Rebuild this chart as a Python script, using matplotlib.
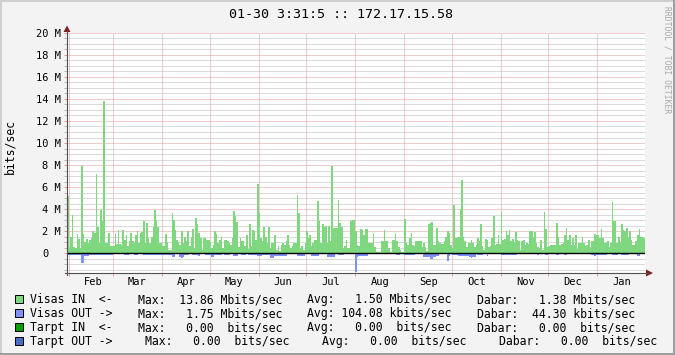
import numpy as np
import matplotlib
matplotlib.use("Agg")
import matplotlib.pyplot as plt
from matplotlib.patches import Rectangle, Polygon
from matplotlib.lines import Line2D
from matplotlib import transforms

W, H, DPI = 675, 355, 100

# ---------------- data ----------------
title = "01-30 3:31:5 :: 172.17.15.58"
ylabel = "bits/sec"
watermark = "RRDTOOL / TOBI OETIKER"

month_names = ["Feb", "Mar", "Apr", "May", "Jun", "Jul", "Aug", "Sep", "Oct", "Nov", "Dec", "Jan"]
month_lengths = [28, 31, 30, 31, 30, 31, 31, 30, 31, 30, 31, 30]
first_month_start = 1          # series begins one day (Jan 31) before Feb 1

y_major_step = 2e6
y_minor_step = 0.5e6
y_max = 20e6
y_min = -20e6 / 11

# Visas IN, daily, Mbit/s (first value = Jan 31)
in_feb = [5.15, 0.55, 1.5, 3.5, 0.55, 0.5, 1.75, 1.3, 0.5, 7.9, 1.75, 1.0, 1.3, 0.9, 1.15,
          1.35, 2.0, 1.8, 7.2, 2.4, 0.9, 3.9, 2.9, 13.86, 0.9, 0.9, 1.8, 0.6, 0.6]
in_mar = [0.6, 1.7, 0.85, 2.1, 0.85, 0.75, 2.1, 1.15, 1.6, 0.65, 1.05, 1.8, 1.05, 0.9, 1.65,
          2.0, 0.9, 1.8, 1.9, 2.95, 0.95, 2.7, 1.4, 0.9, 1.5, 2.4, 3.9, 3.0, 2.4, 0.9, 0.9]
in_apr = [0.6, 0.6, 1.75, 1.0, 0.25, 0.25, 3.6, 3.0, 2.1, 1.2, 1.0, 0.75, 2.0, 0.9, 1.45,
          1.05, 2.0, 0.65, 1.45, 2.2, 0.45, 3.2, 2.6, 1.8, 1.35, 0.3, 1.35, 1.35, 1.2, 1.2]
in_may = [1.0, 0.5, 0.7, 2.0, 1.75, 0.9, 1.2, 1.45, 0.45, 1.2, 1.2, 1.05, 0.9, 0.7, 1.35,
          3.85, 3.4, 2.85, 0.55, 1.35, 1.05, 1.05, 0.65, 1.6, 0.35, 2.6, 0.65, 2.1, 2.0, 1.2, 6.3]
in_jun = [3.6, 1.35, 1.05, 2.4, 1.5, 0.9, 2.4, 0.45, 0.9, 0.9, 1.65, 0.3, 0.6, 0.15, 0.75,
          0.9, 0.75, 1.05, 1.65, 0.75, 0.45, 0.6, 0.9, 0.9, 5.3, 3.6, 0.45, 0.6, 0.3, 0.9]
in_jul = [2.0, 1.4, 1.65, 0.6, 0.9, 1.2, 1.2, 4.7, 2.9, 0.9, 2.6, 2.4, 2.5, 0.9, 2.5,
          1.05, 7.9, 2.3, 2.3, 2.3, 4.8, 2.7, 2.4, 0.45, 0.6, 1.2, 0.45, 0.45, 2.9, 3.0, 3.0]
in_aug = [2.0, 0.75, 0.6, 2.2, 2.1, 1.65, 2.2, 2.2, 0.9, 0.9, 0.9, 1.75, 0.55, 0.1, 0.05,
          0.05, 1.1, 1.1, 2.1, 1.1, 1.1, 0.5, 0.1, 1.2, 1.2, 1.7, 1.05, 0.55, 0.3, 0.05, 0.05]
in_sep = [3.1, 0.9, 0.75, 1.35, 1.8, 0.75, 0.6, 1.05, 1.05, 1.05, 1.05, 0.55, 0.95, 0.55, 0.15,
          2.6, 2.7, 2.8, 0.75, 0.75, 2.3, 1.05, 0.95, 0.85, 0.8, 1.05, 1.45, 2.0, 1.8, 0.75]
in_oct = [0.45, 4.4, 1.4, 1.5, 1.45, 4.0, 6.67, 1.45, 1.1, 0.55, 0.9, 0.9, 1.2, 0.9, 0.55,
          0.75, 1.35, 1.05, 2.6, 0.65, 0.3, 1.3, 1.2, 0.55, 0.65, 1.4, 3.4, 0.75, 0.85, 1.6, 0.85]
in_nov = [3.7, 1.2, 1.3, 2.0, 1.6, 2.1, 1.05, 1.3, 1.0, 1.9, 1.2, 1.05, 0.25, 1.1, 1.2,
          0.75, 0.95, 0.85, 2.0, 2.0, 1.45, 1.9, 0.95, 0.55, 0.45, 1.2, 0.3, 3.7, 2.2, 0.55]
in_dec = [0.65, 0.75, 0.75, 0.75, 0.75, 2.7, 1.5, 0.75, 0.8, 0.9, 1.65, 2.3, 1.2, 1.6, 0.75,
          1.35, 0.75, 1.6, 0.35, 0.9, 0.95, 1.45, 0.9, 0.6, 0.75, 1.2, 0.55, 1.05, 1.05, 1.75, 1.65]
in_jan = [1.6, 1.35, 2.2, 1.35, 0.9, 0.9, 1.1, 0.55, 0.95, 4.65, 2.9, 2.9, 0.9, 1.45, 1.0,
          2.6, 2.1, 2.0, 2.3, 1.45, 2.0, 1.2, 0.75, 0.75, 1.05, 1.6, 2.2, 1.5, 1.45, 1.35]

# Visas OUT, daily, Mbit/s (drawn below zero)
out_feb = [0.2, 0.2, 0.2, 0.2, 0.2, 0.2, 0.2, 0.2, 0.2, 0.9, 0.9, 0.3, 0.3, 0.3, 0.15,
           0.15, 0.15, 0.15, 0.15, 0.15, 0.15, 0.15, 0.15, 0.2, 0.15, 0.15, 0.15, 0.15, 0.15]
out_mar = [0.0, 0.0, 0.1, 0.1, 0.1, 0.1, 0.0, 0.15, 0.15, 0.15, 0.0, 0.0, 0.0, 0.15, 0.15,
           0.15, 0.0, 0.0, 0.0, 0.15, 0.15, 0.15, 0.15, 0.15, 0.15, 0.15, 0.15, 0.2, 0.2, 0.2, 0.2]
out_apr = [0.2, 0.15, 0.15, 0.15, 0.15, 0.15, 0.4, 0.4, 0.05, 0.05, 0.05, 0.4, 0.45, 0.4, 0.15,
           0.15, 0.15, 0.0, 0.0, 0.15, 0.15, 0.15, 0.15, 0.3, 0.0, 0.0, 0.0, 0.15, 0.15, 0.15]
out_may = [0.15, 0.4, 0.4, 0.15, 0.15, 0.15, 0.15, 0.15, 0.0, 0.15, 0.15, 0.15, 0.15, 0.0, 0.0,
           0.3, 0.3, 0.3, 0.0, 0.0, 0.15, 0.15, 0.15, 0.0, 0.15, 0.15, 0.15, 0.15, 0.15, 0.15, 0.25]
out_jun = [0.25, 0.25, 0.15, 0.15, 0.15, 0.15, 0.15, 0.45, 0.45, 0.45, 0.3, 0.3, 0.3, 0.3, 0.3,
           0.3, 0.3, 0.3, 0.05, 0.0, 0.05, 0.0, 0.05, 0.0, 0.25, 0.25, 0.25, 0.25, 0.25, 0.05]
out_jul = [0.0, 0.0, 0.0, 0.3, 0.3, 0.3, 0.3, 0.3, 0.05, 0.0, 0.05, 0.0, 0.05, 0.35, 0.35,
           0.35, 0.35, 0.35, 0.05, 0.0, 0.15, 0.15, 0.15, 0.15, 0.05, 0.0, 0.0, 0.1, 0.1, 0.1, 0.1]
out_aug = [1.75, 0.4, 0.3, 0.3, 0.3, 0.3, 0.3, 0.3, 0.05, 0.0, 0.05, 0.0, 0.0, 0.0, 0.0,
           0.05, 0.0, 0.0, 0.05, 0.0, 0.0, 0.0, 0.0, 0.0, 0.0, 0.0, 0.15, 0.15, 0.05, 0.0, 0.0]
out_sep = [0.15, 0.15, 0.15, 0.15, 0.15, 0.15, 0.15, 0.05, 0.0, 0.0, 0.05, 0.0, 0.35, 0.35, 0.35,
           0.4, 0.5, 0.5, 0.35, 0.35, 0.3, 0.3, 0.05, 0.0, 0.0, 0.0, 0.0, 0.75, 0.3, 0.05]
out_oct = [0.15, 0.15, 0.15, 0.15, 0.3, 0.3, 0.3, 0.3, 0.3, 0.3, 0.3, 0.4, 0.45, 0.4, 0.4,
           0.05, 0.15, 0.15, 0.15, 0.15, 0.0, 0.0, 0.25, 0.0, 0.0, 0.0, 0.0, 0.0, 0.0, 0.05, 0.05]
out_nov = [0.15, 0.15, 0.15, 0.15, 0.15, 0.15, 0.15, 0.15, 0.15, 0.15, 0.0, 0.0, 0.0, 0.05, 0.0,
           0.0, 0.05, 0.0, 0.0, 0.0, 0.0, 0.0, 0.0, 0.15, 0.0, 0.0, 0.0, 0.0, 0.15, 0.15]
out_dec = [0.0, 0.0, 0.05, 0.0, 0.0, 0.15, 0.15, 0.0, 0.0, 0.0, 0.15, 0.15, 0.0, 0.0, 0.0,
           0.05, 0.0, 0.0, 0.0, 0.05, 0.0, 0.0, 0.0, 0.05, 0.0, 0.0, 0.0, 0.15, 0.15, 0.3, 0.15]
out_jan = [0.15, 0.15, 0.15, 0.15, 0.15, 0.15, 0.0, 0.0, 0.0, 0.15, 0.15, 0.15, 0.15, 0.0, 0.0,
           0.15, 0.15, 0.15, 0.15, 0.15, 0.0, 0.0, 0.0, 0.0, 0.0, 0.25, 0.25, 0.0, 0.05, 0.05]

# legend
series_labels = ["Visas IN  <-", "Visas OUT ->", "Tarpt IN  <-", "Tarpt OUT ->"]
series_colors = ["#7FD87F", "#8090FF", "#00A000", "#4A6CC4"]
max_vals = [13.86, 1.75, 0.00, 0.00]
max_units = ["M", "M", "", ""]
avg_vals = [1.50, 104.08, 0.00, 0.00]
avg_units = ["M", "k", "", ""]
cur_vals = [1.38, 44.30, 0.00, 0.00]
cur_units = ["M", "k", "", ""]

# ---------------- styles ----------------
BACK = "#F3F3F3"
SHADEA = "#CFCFCF"
SHADEB = "#9E9E9E"
GRID = "#B8B8B8"
MGRID = "#E49A9A"
ARROW = "#801F1F"
AXIS = "#505050"
MONO = "DejaVu Sans Mono"

visas_in = np.array(in_feb + in_mar + in_apr + in_may + in_jun + in_jul + in_aug +
                    in_sep + in_oct + in_nov + in_dec + in_jan) * 1e6
visas_out = np.array(out_feb + out_mar + out_apr + out_may + out_jun + out_jul + out_aug +
                     out_sep + out_oct + out_nov + out_dec + out_jan) * 1e6
n_days = len(visas_in)
edges = np.arange(n_days + 1)

fig = plt.figure(figsize=(W / DPI, H / DPI), dpi=DPI, facecolor=BACK)


def fx(x):
    return x / W


def fy(y):
    return 1 - y / H


ax = fig.add_axes([fx(67), fy(273), fx(645) - fx(67), fy(33) - fy(273)])
ax.set_facecolor("white")
ax.set_xlim(0, n_days)
ax.set_ylim(y_min, y_max)
for s in ax.spines.values():
    s.set_visible(False)

month_starts = first_month_start + np.concatenate([[0], np.cumsum(month_lengths)[:-1]])
ax.set_xticks(month_starts)
major_y = np.arange(0, y_max + 1, y_major_step)
minor_y = [v for v in np.arange(-1.5e6, y_max + 1, y_minor_step) if abs(v % y_major_step) > 1]
ax.set_yticks(major_y)
ax.set_yticks(minor_y, minor=True)
ax.tick_params(axis="both", which="both", direction="out", length=2.0, width=0.72,
               labelleft=False, labelbottom=False)
ax.tick_params(axis="both", which="major", color=MGRID)
ax.tick_params(axis="y", which="minor", color=GRID)
ax.set_axisbelow(True)
ax.grid(which="minor", axis="y", color=GRID, lw=0.72, ls=(0, (1, 1)))
ax.grid(which="major", axis="y", color=MGRID, lw=0.72, ls=(0, (1, 1)))
ax.grid(which="major", axis="x", color=MGRID, lw=0.72, ls=(0, (1, 1)))

ax.stairs(visas_in, edges, fill=True, baseline=0, color=series_colors[0], lw=0)
ax.stairs(-visas_out, edges, fill=True, baseline=0, color=series_colors[1], lw=0)
ax.axhline(0, color="black", lw=1.0, zorder=5)

# y tick labels
ty = transforms.blended_transform_factory(fig.transFigure, ax.transData)
for v in major_y:
    if v == 0:
        ax.text(fx(48.8), v, "0", transform=ty, ha="right", va="center_baseline",
                fontsize=7.5, family=MONO)
    else:
        ax.text(fx(60.8), v, f"{v / 1e6:.0f} M", transform=ty, ha="right",
                va="center_baseline", fontsize=7.5, family=MONO)

# x (month) labels
tx = transforms.blended_transform_factory(ax.transData, fig.transFigure)
for start, name in zip(month_starts, month_names):
    ax.text(start + 15.5, fy(285.3), name, transform=tx, ha="center", va="baseline",
            fontsize=7.5, family=MONO)

# axes lines and arrows
fig.add_artist(Line2D([fx(67), fx(67)], [fy(275), fy(31)], color=AXIS, lw=0.8))
fig.add_artist(Line2D([fx(65), fx(648)], [fy(273), fy(273)], color=AXIS, lw=0.8))
fig.add_artist(Polygon([(fx(63.5), fy(32)), (fx(70.5), fy(32)), (fx(67), fy(25.5))],
                       closed=True, color=ARROW, lw=0))
fig.add_artist(Polygon([(fx(646), fy(269.5)), (fx(646), fy(276.5)), (fx(653), fy(273))],
                       closed=True, color=ARROW, lw=0))

# title, axis label, watermark
fig.text(fx(341.3), fy(18.3), title, ha="center", va="baseline", fontsize=9.6, family=MONO)
fig.text(fx(10), fy(146), ylabel, rotation=90, ha="center", va="center", fontsize=8.3,
         family=MONO)
fig.text(fx(666.7), fy(60), watermark, rotation=270, ha="center", va="center",
         fontsize=5.8, family=MONO, color="#A8A8A8")

# legend
row_base = [303.3, 317.2, 331.1, 345.0]
max_x = [137.5, 137.5, 137.5, 145.0]
avg_x = [307.0, 307.0, 307.0, 321.5]
cur_x = [477.0, 477.0, 477.0, 499.0]
for i in range(4):
    yb = row_base[i]
    fig.add_artist(Rectangle((fx(15), fy(yb)), 8 / W, 8.3 / H, facecolor=series_colors[i],
                             edgecolor="black", lw=0.72))
    fig.text(fx(30), fy(yb), series_labels[i], ha="left", va="baseline", fontsize=8.3,
             family=MONO)
    fig.text(fx(max_x[i]), fy(yb), f"Max: {max_vals[i]:6.2f} {max_units[i] or ' '}bits/sec",
             ha="left", va="baseline", fontsize=8.3, family=MONO)
    fig.text(fx(avg_x[i]), fy(yb), f"Avg: {avg_vals[i]:6.2f} {avg_units[i] or ' '}bits/sec",
             ha="left", va="baseline", fontsize=8.3, family=MONO)
    fig.text(fx(cur_x[i]), fy(yb), f"Dabar: {cur_vals[i]:6.2f} {cur_units[i] or ' '}bits/sec",
             ha="left", va="baseline", fontsize=8.3, family=MONO)

# 3-D frame
fig.add_artist(Rectangle((0, fy(2)), 1, 2 / H, color=SHADEA, lw=0))
fig.add_artist(Rectangle((0, 0), 2 / W, 1, color=SHADEA, lw=0))
fig.add_artist(Rectangle((0, 0), 1, 2 / H, color=SHADEB, lw=0))
fig.add_artist(Rectangle((1 - 2 / W, 0), 2 / W, 1, color=SHADEB, lw=0))

fig.savefig("out.png", dpi=DPI, facecolor=BACK)
